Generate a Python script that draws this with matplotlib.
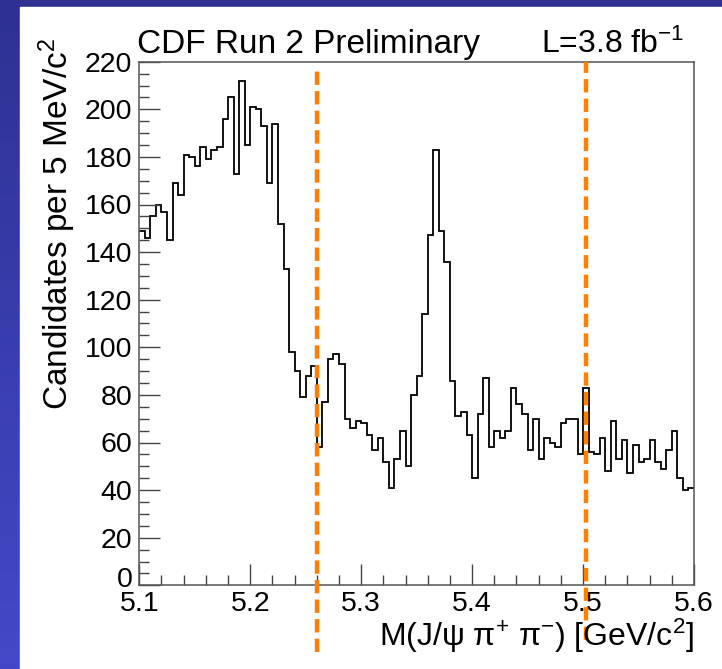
import numpy as np
import matplotlib
matplotlib.use("Agg")
import matplotlib.pyplot as plt
import matplotlib.transforms as mtransforms
from matplotlib.colors import LinearSegmentedColormap

plt.rcParams['font.family'] = ['Liberation Sans', 'DejaVu Sans']
plt.rcParams['mathtext.fontset'] = 'custom'
plt.rcParams['mathtext.rm'] = 'Liberation Sans'
plt.rcParams['mathtext.it'] = 'Liberation Sans'
plt.rcParams['mathtext.default'] = 'rm'

# M(J/psi pi+ pi-) histogram, 5 MeV bins from 5.1 to 5.6 GeV
mass_lo = 5.1
mass_hi = 5.6
counts = [149, 146, 155, 160, 157, 145, 169, 164, 181, 180,
          176, 184, 179, 183, 184, 196, 205, 173, 212, 185,
          201, 200, 193, 169, 194, 152, 133, 98, 90, 79,
          88, 92, 58, 77, 95, 97, 93, 70, 66, 69,
          68, 63, 57, 62, 52, 41, 53, 65, 50, 80,
          88, 114, 147, 183, 149, 136, 86, 71, 73, 63,
          45, 72, 87, 58, 65, 62, 65, 83, 76, 72,
          57, 70, 53, 62, 60, 58, 68, 70, 70, 55,
          83, 56, 55, 62, 48, 69, 53, 61, 47, 59,
          52, 53, 61, 52, 49, 57, 65, 45, 40, 41]
cut_lines = [5.26, 5.5025]
y_ticks = [0, 20, 40, 60, 80, 100, 120, 140, 160, 180, 200, 220]
x_ticks = [5.1, 5.2, 5.3, 5.4, 5.5, 5.6]

edges = np.linspace(mass_lo, mass_hi, len(counts) + 1)

fig = plt.figure(figsize=(7.22, 6.69), dpi=100)

# slide background: blue gradient with white panel
bg = fig.add_axes([0, 0, 1, 1], zorder=-10)
cmap = LinearSegmentedColormap.from_list('slide', ['#2e3192', '#4349c8'])
bg.imshow(np.linspace(0, 1, 256).reshape(-1, 1), aspect='auto', cmap=cmap,
          extent=[0, 1, 0, 1])
bg.add_patch(plt.Rectangle((20 / 722, 0), 1, 1 - 7 / 669, color='white'))
bg.set_xlim(0, 1)
bg.set_ylim(0, 1)
bg.axis('off')

ax = fig.add_axes([139.3 / 722, 1 - 585.3 / 669, 554.7 / 722, 523.6 / 669])
ax.stairs(counts, edges, baseline=None, color='black', linewidth=1.3)

ax.set_xlim(mass_lo, mass_hi)
ax.set_ylim(0, 220)
ax.set_xticks(x_ticks)
ax.set_xticklabels(['%.1f' % v for v in x_ticks])
ax.set_yticks(y_ticks)
ax.set_xticks(np.arange(5.1, 5.6001, 0.02), minor=True)
ax.set_yticks(np.arange(0, 221, 5), minor=True)
ax.tick_params(which='both', direction='in', top=False, right=False,
               color='#444444', labelsize=20.5)
ax.tick_params(which='major', length=15, width=1.0)
ax.tick_params(which='minor', length=7.5, width=1.0)
ax.tick_params(axis='y', pad=5)
ax.tick_params(axis='x', pad=4)
for sp in ax.spines.values():
    sp.set_color('#555555')
    sp.set_linewidth(1.1)

# nudge the "0" label up a little so it sits above "5.1"
zero_lbl = ax.get_yticklabels()[0]
zero_lbl.set_transform(zero_lbl.get_transform() +
                       mtransforms.ScaledTranslation(0, 8 / 100, fig.dpi_scale_trans))

# signal window cuts drawn on the slide
for xc, top, bot in zip(cut_lines, [0.984, 0.999], [-0.127, -0.104]):
    ax.plot([xc, xc], [bot, top], transform=ax.get_xaxis_transform(),
            color='#ff7f00', linewidth=3.2, linestyle=(0, (3.0, 1.4)),
            clip_on=False, zorder=5)

fig.text(137 / 722, 1 - 53 / 669, 'CDF Run 2 Preliminary', fontsize=24,
         ha='left', va='baseline')
fig.text(684 / 722, 1 - 53 / 669, 'L=3.8 fb$^{-1}$', fontsize=23,
         ha='right', va='baseline')
fig.text(57 / 722, 1 - 38 / 669, 'Candidates per 5 MeV/c$^{2}$', fontsize=24,
         rotation=90, ha='center', va='top')
fig.text(694 / 722, 1 - 636 / 669, 'M(J/\u03c8 \u03c0$^{+}$ \u03c0$^{-}$) [GeV/c$^{2}$]',
         fontsize=23, ha='right', va='center')

fig.savefig('out.png', dpi=100)
